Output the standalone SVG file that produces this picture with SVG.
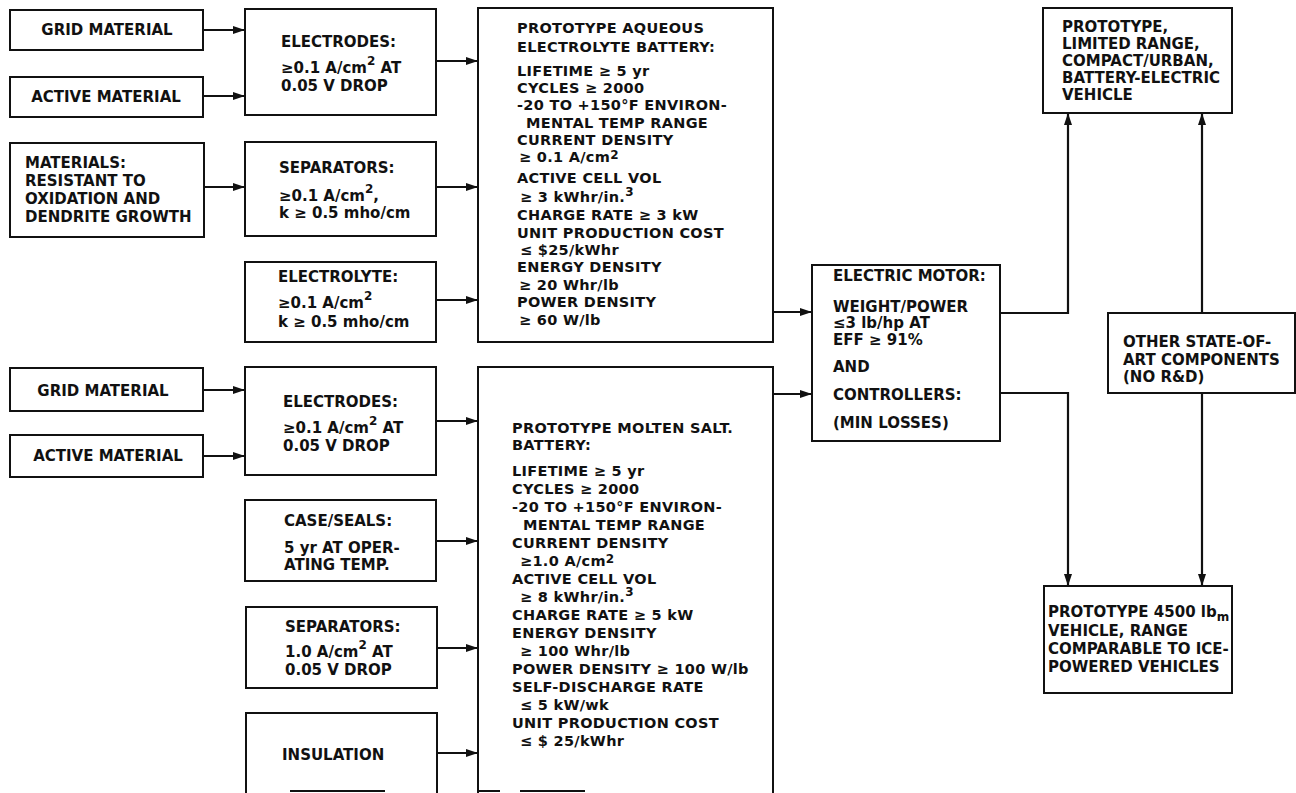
<svg xmlns="http://www.w3.org/2000/svg" width="1296" height="793" viewBox="0 0 1296 793">
<defs>
<style>
.box{fill:#fff;stroke:#111;stroke-width:2}
.edge{fill:none;stroke:#111;stroke-width:2}
.t{font-family:"DejaVu Sans","Liberation Sans",sans-serif;font-weight:bold;font-size:15px;fill:#111}
.b{font-size:14.5px;letter-spacing:0.3px}
.c{fill:none;stroke:#111;stroke-width:2.2}
.sup{font-size:12px}
</style>
<marker id="ah" markerUnits="userSpaceOnUse" markerWidth="13" markerHeight="9" refX="12" refY="4" orient="auto">
<path d="M0,0 L12,4 L0,8 z" fill="#111"/>
</marker>
</defs>
<rect width="1296" height="793" fill="#fff"/>

<g id="connectors">
<path class="c" d="M203,30 H245" marker-end="url(#ah)"/>
<path class="c" d="M203,96 H245" marker-end="url(#ah)"/>
<path class="c" d="M204,187 H245" marker-end="url(#ah)"/>
<path class="c" d="M436,61 H478" marker-end="url(#ah)"/>
<path class="c" d="M436,187 H478" marker-end="url(#ah)"/>
<path class="c" d="M436,300 H478" marker-end="url(#ah)"/>
<path class="c" d="M773,312 H812" marker-end="url(#ah)"/>
<path class="c" d="M1000,313 H1068 V113" marker-end="url(#ah)"/>
<path class="c" d="M1202,313 V113" marker-end="url(#ah)"/>
<path class="c" d="M1000,393 H1068 V586" marker-end="url(#ah)"/>
<path class="c" d="M1202,393 V586" marker-end="url(#ah)"/>
<path class="c" d="M203,390 H245" marker-end="url(#ah)"/>
<path class="c" d="M203,456 H245" marker-end="url(#ah)"/>
<path class="c" d="M436,421 H478" marker-end="url(#ah)"/>
<path class="c" d="M436,541 H478" marker-end="url(#ah)"/>
<path class="c" d="M437,648 H478" marker-end="url(#ah)"/>
<path class="c" d="M437,753 H478" marker-end="url(#ah)"/>
<path class="c" d="M773,394 H812" marker-end="url(#ah)"/>
</g>

<g id="grid1">
<rect class="box" x="10" y="10" width="193" height="40"/>
<text class="t" x="107" y="35" text-anchor="middle">GRID MATERIAL</text>
</g>
<g id="active1">
<rect class="box" x="10" y="77" width="193" height="40"/>
<text class="t" x="106" y="102" text-anchor="middle">ACTIVE MATERIAL</text>
</g>
<g id="materials">
<rect class="box" x="10" y="143" width="194" height="94"/>
<text class="t" x="25" y="168">MATERIALS:</text>
<text class="t" x="25" y="186">RESISTANT TO</text>
<text class="t" x="25" y="204">OXIDATION AND</text>
<text class="t" x="25" y="222">DENDRITE GROWTH</text>
</g>
<g id="electrodes1">
<rect class="box" x="245" y="9" width="191" height="106"/>
<text class="t" x="281" y="47">ELECTRODES:</text>
<text class="t" x="281" y="73">≥0.1 A/cm<tspan class="sup" dy="-8">2</tspan><tspan dy="8"> AT</tspan></text>
<text class="t" x="281" y="91">0.05 V DROP</text>
</g>
<g id="separators1">
<rect class="box" x="245" y="142" width="191" height="94"/>
<text class="t" x="279" y="173">SEPARATORS:</text>
<text class="t" x="279" y="201">≥0.1 A/cm<tspan class="sup" dy="-8">2</tspan><tspan dy="8">,</tspan></text>
<text class="t" x="279" y="218">k ≥ 0.5 mho/cm</text>
</g>
<g id="electrolyte">
<rect class="box" x="245" y="262" width="191" height="80"/>
<text class="t" x="278" y="282">ELECTROLYTE:</text>
<text class="t" x="278" y="308">≥0.1 A/cm<tspan class="sup" dy="-8">2</tspan></text>
<text class="t" x="278" y="327">k ≥ 0.5 mho/cm</text>
</g>
<g id="battery1">
<rect class="box" x="478" y="8" width="295" height="334"/>
<text class="t b" x="517" y="33">PROTOTYPE AQUEOUS</text>
<text class="t b" x="517" y="52">ELECTROLYTE BATTERY:</text>
<text class="t b" x="517" y="76">LIFETIME ≥ 5 yr</text>
<text class="t b" x="517" y="93">CYCLES ≥ 2000</text>
<text class="t b" x="517" y="110">-20 TO +150°F ENVIRON-</text>
<text class="t b" x="526" y="128">MENTAL TEMP RANGE</text>
<text class="t b" x="517" y="145">CURRENT DENSITY</text>
<text class="t b" x="519" y="162">≥ 0.1 A/cm<tspan class="sup" dy="-3">2</tspan></text>
<text class="t b" x="517" y="183">ACTIVE CELL VOL</text>
<text class="t b" x="520" y="202">≥ 3 kWhr/in.<tspan class="sup" dy="-6">3</tspan></text>
<text class="t b" x="517" y="220">CHARGE RATE ≥ 3 kW</text>
<text class="t b" x="517" y="238">UNIT PRODUCTION COST</text>
<text class="t b" x="520" y="255">≤ $25/kWhr</text>
<text class="t b" x="517" y="272">ENERGY DENSITY</text>
<text class="t b" x="519" y="290">≥ 20 Whr/lb</text>
<text class="t b" x="517" y="307">POWER DENSITY</text>
<text class="t b" x="519" y="325">≥ 60 W/lb</text>
</g>
<g id="motor">
<rect class="box" x="812" y="265" width="188" height="176"/>
<text class="t" x="833" y="281">ELECTRIC MOTOR:</text>
<text class="t" x="833" y="312">WEIGHT/POWER</text>
<text class="t" x="833" y="328">≤3 lb/hp AT</text>
<text class="t" x="833" y="345">EFF ≥ 91%</text>
<text class="t" x="833" y="372">AND</text>
<text class="t" x="833" y="400">CONTROLLERS:</text>
<text class="t" x="833" y="428">(MIN LOSSES)</text>
</g>
<g id="limited-range-vehicle">
<rect class="box" x="1043" y="8" width="189" height="105"/>
<text class="t" x="1062" y="32">PROTOTYPE,</text>
<text class="t" x="1062" y="49">LIMITED RANGE,</text>
<text class="t" x="1062" y="66">COMPACT/URBAN,</text>
<text class="t" x="1062" y="83">BATTERY-ELECTRIC</text>
<text class="t" x="1062" y="100">VEHICLE</text>
</g>
<g id="other-components">
<rect class="box" x="1108" y="313" width="187" height="80"/>
<text class="t" x="1123" y="347">OTHER STATE-OF-</text>
<text class="t" x="1123" y="365">ART COMPONENTS</text>
<text class="t" x="1123" y="382">(NO R&amp;D)</text>
</g>
<g id="full-range-vehicle">
<rect class="box" x="1044" y="586" width="188" height="107"/>
<text class="t" x="1048" y="617">PROTOTYPE 4500 lb<tspan class="sup" dy="4">m</tspan></text>
<text class="t" x="1048" y="636">VEHICLE, RANGE</text>
<text class="t" x="1048" y="654">COMPARABLE TO ICE-</text>
<text class="t" x="1048" y="672">POWERED VEHICLES</text>
</g>
<g id="grid2">
<rect class="box" x="10" y="368" width="193" height="43"/>
<text class="t" x="103" y="396" text-anchor="middle">GRID MATERIAL</text>
</g>
<g id="active2">
<rect class="box" x="10" y="435" width="193" height="42"/>
<text class="t" x="108" y="461" text-anchor="middle">ACTIVE MATERIAL</text>
</g>
<g id="electrodes2">
<rect class="box" x="245" y="367" width="191" height="108"/>
<text class="t" x="283" y="407">ELECTRODES:</text>
<text class="t" x="283" y="433">≥0.1 A/cm<tspan class="sup" dy="-8">2</tspan><tspan dy="8"> AT</tspan></text>
<text class="t" x="283" y="451">0.05 V DROP</text>
</g>
<g id="case-seals">
<rect class="box" x="245" y="500" width="191" height="81"/>
<text class="t" x="284" y="526">CASE/SEALS:</text>
<text class="t" x="284" y="553">5 yr AT OPER-</text>
<text class="t" x="284" y="570">ATING TEMP.</text>
</g>
<g id="separators2">
<rect class="box" x="246" y="607" width="191" height="81"/>
<text class="t" x="285" y="632">SEPARATORS:</text>
<text class="t" x="285" y="657">1.0 A/cm<tspan class="sup" dy="-8">2</tspan><tspan dy="8"> AT</tspan></text>
<text class="t" x="285" y="675">0.05 V DROP</text>
</g>
<g id="insulation">
<path class="edge" d="M246,793 V713 H437 V793"/>
<path class="edge" d="M290,791 H385"/>
<text class="t" x="282" y="760">INSULATION</text>
</g>
<g id="battery2">
<path class="edge" d="M478,793 V367 H773 V793"/>
<path class="edge" d="M478,791 H500 M520,791 H585"/>
<text class="t b" x="512" y="433">PROTOTYPE MOLTEN SALT.</text>
<text class="t b" x="512" y="450">BATTERY:</text>
<text class="t b" x="512" y="476">LIFETIME ≥ 5 yr</text>
<text class="t b" x="512" y="494">CYCLES ≥ 2000</text>
<text class="t b" x="512" y="512">-20 TO +150°F ENVIRON-</text>
<text class="t b" x="523" y="530">MENTAL TEMP RANGE</text>
<text class="t b" x="512" y="548">CURRENT DENSITY</text>
<text class="t b" x="520" y="566">≥1.0 A/cm<tspan class="sup" dy="-3">2</tspan></text>
<text class="t b" x="512" y="584">ACTIVE CELL VOL</text>
<text class="t b" x="520" y="602">≥ 8 kWhr/in.<tspan class="sup" dy="-6">3</tspan></text>
<text class="t b" x="512" y="620">CHARGE RATE ≥ 5 kW</text>
<text class="t b" x="512" y="638">ENERGY DENSITY</text>
<text class="t b" x="520" y="656">≥ 100 Whr/lb</text>
<text class="t b" x="512" y="674">POWER DENSITY ≥ 100 W/lb</text>
<text class="t b" x="512" y="692">SELF-DISCHARGE RATE</text>
<text class="t b" x="520" y="710">≤ 5 kW/wk</text>
<text class="t b" x="512" y="728">UNIT PRODUCTION COST</text>
<text class="t b" x="520" y="746">≤ $ 25/kWhr</text>
</g>
</svg>
